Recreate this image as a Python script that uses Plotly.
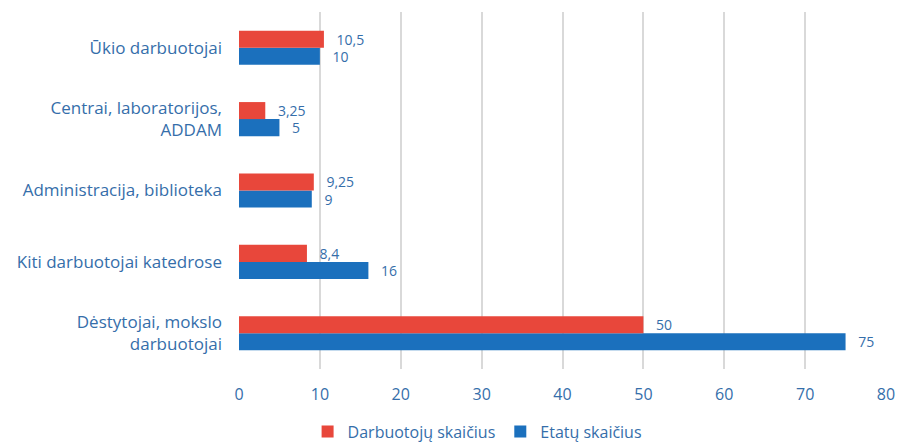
import plotly.graph_objects as go

categories = [
    "Dėstytojai, mokslo<br>darbuotojai",
    "Kiti darbuotojai katedrose",
    "Administracija, biblioteka",
    "Centrai, laboratorijos,<br>ADDAM",
    "Ūkio darbuotojai",
]
darbuotoju = [50, 8.4, 9.25, 3.25, 10.5]
etatu = [75, 16, 9, 5, 10]
x_ticks = [0, 10, 20, 30, 40, 50, 60, 70, 80]

red = "#E8473B"
blue = "#1B70BD"
txt = "#356EAA"
font_family = "'Open Sans', Lato, sans-serif"
pad = "\u00a0\u00a0\u2009"


def fmt(v):
    return pad + str(v).replace(".", ",")


fig = go.Figure()
fig.add_trace(go.Bar(
    y=categories, x=etatu, orientation="h", name="Etatų skaičius",
    marker=dict(color=blue, line=dict(width=0)), text=[fmt(v) for v in etatu],
    textposition="outside", constraintext="none",
    textfont=dict(color=txt, size=14, family=font_family),
    cliponaxis=False,
))
fig.add_trace(go.Bar(
    y=categories, x=darbuotoju, orientation="h", name="Darbuotojų skaičius",
    marker=dict(color=red, line=dict(width=0)), text=[fmt(v) for v in darbuotoju],
    textposition="outside", constraintext="none",
    textfont=dict(color=txt, size=14, family=font_family),
    cliponaxis=False,
))

fig.update_layout(
    width=902, height=443,
    margin=dict(l=239, r=16, t=12, b=74, autoexpand=False),
    barmode="group", bargap=0.523, bargroupgap=0,
    plot_bgcolor="white", paper_bgcolor="white",
    font=dict(family=font_family, size=16, color=txt),
    xaxis=dict(range=[0, 80], tickvals=x_ticks, showgrid=True, gridcolor="#D9D9D9",
               gridwidth=1.5, zeroline=False, showline=False, ticks="",
               tickfont=dict(size=16, color=txt), ticklabelstandoff=14,
               automargin=False),
    yaxis=dict(showgrid=False, showline=False, ticks="", ticklabelstandoff=16,
               tickfont=dict(size=17, color=txt), automargin=False),
    legend=dict(orientation="h", x=0.368, xanchor="center", y=-0.175, yanchor="middle",
                traceorder="reversed", font=dict(size=16, color=txt),
                itemwidth=30),
    showlegend=True,
)
fig.write_html("out.html", config={"displayModeBar": False},
               post_script="document.body.style.margin='0';")
